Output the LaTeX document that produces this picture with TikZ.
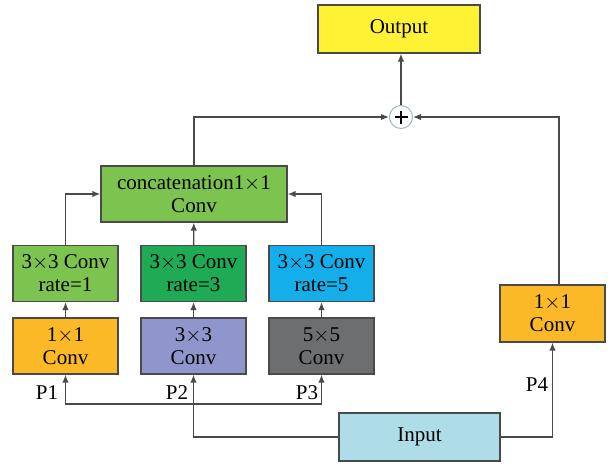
\documentclass[tikz,border=0pt]{standalone}
\usepackage{fontspec}
\setmainfont{Liberation Serif}
\usetikzlibrary{arrows.meta}
\definecolor{linegray}{HTML}{4A4A4A}
\definecolor{outyellow}{HTML}{FFF133}
\definecolor{catgreen}{HTML}{7DC350}
\definecolor{darkgreen}{HTML}{1FAA55}
\definecolor{skyblue}{HTML}{14AEEA}
\definecolor{convorange}{HTML}{FBB827}
\definecolor{lavender}{HTML}{8E96CB}
\definecolor{darkgraybox}{HTML}{6D6E70}
\definecolor{inblue}{HTML}{AEDDE8}
\definecolor{ringblue}{HTML}{9DB8C4}
\tikzset{
  box/.style={draw=linegray, line width=1.2pt, minimum width=105pt, minimum height=56pt,
    align=center, inner sep=0pt, font=\fontsize{21}{23}\selectfont},
  conn/.style={draw=linegray, line width=1.4pt},
  arr/.style={conn, -{Latex[length=8pt,width=6.5pt]}},
  lbl/.style={font=\fontsize{21}{23}\selectfont}
}
\begin{document}
\begin{tikzpicture}[x=1pt,y=-1pt]
  \useasboundingbox (0,0) rectangle (614,464);
  % boxes
  \node [box, fill=outyellow, minimum width=162pt, minimum height=48pt] (out) at (399,29) {Output};
  \node [circle, draw=ringblue, line width=1pt, fill=white, minimum size=23pt, inner sep=0pt] (sum) at (401,117) {};
  \draw [line width=2.8pt] ([xshift=-6.5pt]sum.center) -- ([xshift=6.5pt]sum.center);
  \draw [line width=2.8pt] ([yshift=-6.5pt]sum.center) -- ([yshift=6.5pt]sum.center);
  \node [box, fill=catgreen, minimum width=186pt] (cat) at (194,194) {concatenation1$\times$1\\Conv};
  \node [box, fill=catgreen] (r1) at (65.5,273.5) {3$\times$3 Conv\\rate=1};
  \node [box, fill=darkgreen] (r3) at (193.5,273.5) {3$\times$3 Conv\\rate=3};
  \node [box, fill=skyblue] (r5) at (321.5,273.5) {3$\times$3 Conv\\rate=5};
  \node [box, fill=convorange] (c1) at (65.5,346) {1$\times$1\\Conv};
  \node [box, fill=lavender] (c3) at (193.5,346) {3$\times$3\\Conv};
  \node [box, fill=darkgraybox] (c5) at (321.5,346) {5$\times$5\\Conv};
  \node [box, fill=convorange, minimum height=57pt] (c4) at (552.5,313.5) {1$\times$1\\Conv};
  \node [box, fill=inblue, minimum width=161pt, minimum height=48pt] (in) at (419.5,437) {Input};
  % branch labels
  \node [lbl] (p1) at (47,393) {P1};
  \node [lbl] (p2) at (177,393) {P2};
  \node [lbl] (p3) at (307,393) {P3};
  \node [lbl] (p4) at (537,385) {P4};
  % connectors
  \coordinate (split) at (193.5,404);
  \draw [arr] (in.west) -| (c3.south);
  \draw [arr] (split) -| (c1.south);
  \draw [arr] (split) -| (c5.south);
  \draw [arr] (in.east) -| (c4.south);
  \draw [arr] (c1) -- (r1);
  \draw [arr] (c3) -- (r3);
  \draw [arr] (c5) -- (r5);
  \draw [arr] (r1.north) |- (cat.west);
  \draw [arr] (r3) -- (cat);
  \draw [arr] (r5.north) |- (cat.east);
  \draw [arr] (cat.north) |- (sum.west);
  \draw [arr] ([xshift=6.5pt]c4.north) |- (sum.east);
  \draw [arr] (sum.north) -- (sum.north |- out.south);
\end{tikzpicture}
\end{document}
